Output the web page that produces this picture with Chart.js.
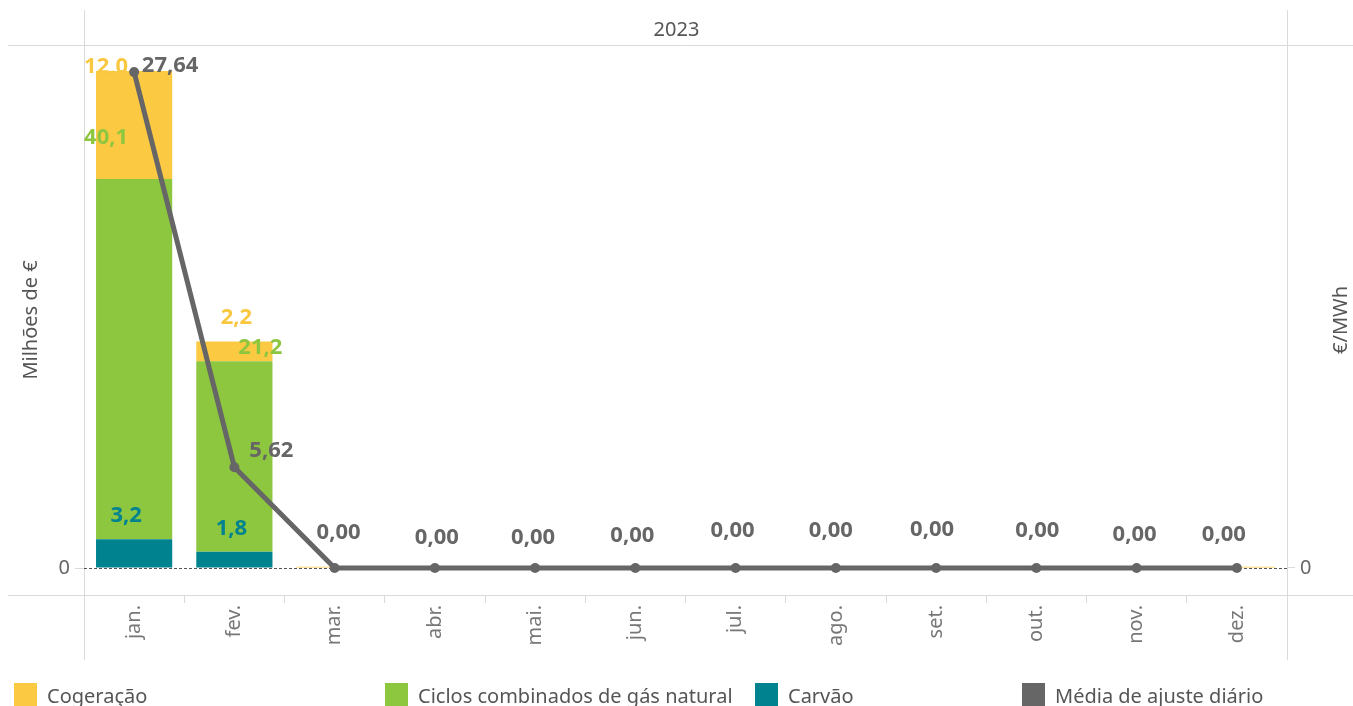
<!DOCTYPE html>
<html>
<head>
<meta charset="utf-8">
<script src="https://cdn.jsdelivr.net/npm/chart.js@4/dist/chart.umd.min.js"></script>
<style>
  body { margin: 0; background: #fff; font-family: "Noto Sans", sans-serif; }
  #wrap { position: relative; width: 1353px; height: 706px; overflow: hidden; }
  .leg { position: absolute; top: 683px; height: 26px; line-height: 26px; font-size: 20px; color: #555; white-space: nowrap; }
  .leg i { display: inline-block; width: 23px; height: 23px; vertical-align: top; margin: 0 10px 0 0; }
</style>
</head>
<body>
<div id="wrap">
  <canvas id="chart" width="1353" height="706"></canvas>
  <div class="leg" style="left:14px"><i style="background:#FCC943"></i>Cogeração</div>
  <div class="leg" style="left:385px"><i style="background:#8DC63F"></i>Ciclos combinados de gás natural</div>
  <div class="leg" style="left:755px"><i style="background:#00838F"></i>Carvão</div>
  <div class="leg" style="left:1022px"><i style="background:#666666"></i>Média de ajuste diário</div>
</div>
<script>
        // values (Milhões de € and €/MWh)
        var months = ["jan.", "fev.", "mar.", "abr.", "mai.", "jun.", "jul.", "ago.", "set.", "out.", "nov.", "dez."];
        var cogeracao = [12.0, 2.2, 0.15, 0, 0, 0, 0, 0, 0, 0, 0, 0.15];
        var ciclos = [40.1, 21.2, 0, 0, 0, 0, 0, 0, 0, 0, 0, 0];
        var carvao = [3.2, 1.8, 0, 0, 0, 0, 0, 0, 0, 0, 0, 0];
        var mediaAjuste = [27.64, 5.62, 0, 0, 0, 0, 0, 0, 0, 0, 0, 0];

        var grey = "#666666";
        var frameCol = "#dadada";
        var font = "'Noto Sans', sans-serif";

        // where Tableau put each label, relative to the mark
        var nudges = {
            cog: [[-28, -6], [2, -26]],
            cic: [[-28, -43], [26, -15]],
            car: [[-8, -25], [-3, -25]],
            media: [[36, -8], [37, -18], [4, -37], [2, -32], [-2, -32], [-3, -34], [-3, -39], [-5, -39], [-4, -40], [1, -39], [-2, -35], [-13, -35]]
        };

        var frame = {
            id: 'frame',
            beforeDraw: (chart) => {
                const {ctx, chartArea: a} = chart;
                ctx.save();
                ctx.strokeStyle = frameCol;
                ctx.lineWidth = 1;
                ctx.beginPath();
                ctx.moveTo(8, a.top + 0.5); ctx.lineTo(chart.width, a.top + 0.5);
                ctx.moveTo(8, a.bottom + 0.5); ctx.lineTo(chart.width, a.bottom + 0.5);
                ctx.moveTo(a.left + 0.5, 10); ctx.lineTo(a.left + 0.5, 660);
                ctx.moveTo(a.right + 0.5, 10); ctx.lineTo(a.right + 0.5, 660);
                ctx.stroke();
                ctx.restore();
            },
            afterDraw: (chart) => {
                const {ctx, chartArea: a} = chart;
                // right axis title reads bottom to top
                ctx.save();
                ctx.translate(1341, (a.top + a.bottom) / 2);
                ctx.rotate(-Math.PI / 2);
                ctx.fillStyle = "#555";
                ctx.font = "20px " + font;
                ctx.textAlign = "center";
                ctx.textBaseline = "middle";
                ctx.fillText("€/MWh", 0, 0);
                ctx.restore();
            }
        };

        var valueLabels = {
            id: 'valueLabels',
            afterDatasetsDraw: (chart) => {
                const {ctx} = chart;
                ctx.save();
                ctx.font = "bold 22px " + font;
                ctx.textAlign = "center";
                ctx.textBaseline = "alphabetic";
                chart.data.datasets.forEach((ds, di) => {
                    const meta = chart.getDatasetMeta(di);
                    const nd = nudges[ds.key];
                    meta.data.forEach((el, i) => {
                        const v = ds.data[i];
                        const isLine = ds.type === 'line';
                        if (!isLine && v < 0.5) return;
                        const off = nd[i] || [0, -25];
                        const txt = v.toFixed(isLine ? 2 : 1).replace('.', ',');
                        ctx.fillStyle = ds.labelColor;
                        ctx.fillText(txt, el.x + off[0], el.y + off[1] + 8);
                    });
                });
                ctx.restore();
            }
        };

        const cvs = document.getElementById("chart");
        new Chart(cvs, {
            type: "bar",
            data: {
                labels: months,
                datasets: [{
                    key: 'media',
                    type: 'line',
                    label: 'Média de ajuste diário',
                    data: mediaAjuste,
                    yAxisID: 'y1',
                    borderColor: grey,
                    borderWidth: 5,
                    pointRadius: 5,
                    pointBorderWidth: 0,
                    pointBackgroundColor: grey,
                    labelColor: grey,
                    order: 0
                }, {
                    key: 'car',
                    label: 'Carvão',
                    data: carvao,
                    backgroundColor: '#00838F',
                    labelColor: '#00838F',
                    stack: 's',
                    order: 1
                }, {
                    key: 'cic',
                    label: 'Ciclos combinados de gás natural',
                    data: ciclos,
                    backgroundColor: '#8DC63F',
                    labelColor: '#8DC63F',
                    stack: 's',
                    order: 1
                }, {
                    key: 'cog',
                    label: 'Cogeração',
                    data: cogeracao,
                    backgroundColor: '#FCC943',
                    labelColor: '#F9C740',
                    stack: 's',
                    order: 1
                }]
            },
            options: {
                responsive: false,
                animation: false,
                devicePixelRatio: 1,
                datasets: {
                    bar: { categoryPercentage: 1, barPercentage: 0.76 }
                },
                plugins: {
                    legend: { display: false },
                    tooltip: { enabled: false },
                    title: {
                        display: true,
                        text: "2023",
                        color: "#555",
                        font: { family: font, size: 20, weight: 'normal' },
                        padding: { top: 18, bottom: 3 }
                    }
                },
                scales: {
                    x: {
                        grid: { drawOnChartArea: false, color: frameCol, tickLength: 8, offset: true },
                        border: { display: false },
                        ticks: {
                            color: "#777",
                            font: { family: font, size: 20 },
                            minRotation: 90,
                            maxRotation: 90,
                            autoSkip: false,
                            padding: 2
                        },
                        afterFit: (s) => { s.height = 65; }
                    },
                    y: {
                        stacked: true,
                        min: -3.0,
                        max: 58.2,
                        afterBuildTicks: (s) => { s.ticks = [{value: 0}]; },
                        grid: { color: "#555", lineWidth: 1, tickColor: frameCol, tickLength: 9 },
                        border: { display: false, dash: [3, 2] },
                        ticks: {
                            color: "#666",
                            font: { family: font, size: 20 },
                            padding: 5,
                            callback: () => "0"
                        },
                        title: {
                            display: true,
                            text: "Milhões de €",
                            color: "#555",
                            font: { family: font, size: 20 },
                            padding: { top: 19, bottom: 0 }
                        },
                        afterFit: (s) => { s.width = 84; }
                    },
                    y1: {
                        position: 'right',
                        min: -1.505,
                        max: 29.15,
                        afterBuildTicks: (s) => { s.ticks = [{value: 0}]; },
                        grid: { drawOnChartArea: false, tickColor: frameCol, tickLength: 8 },
                        border: { display: false },
                        ticks: {
                            color: "#666",
                            font: { family: font, size: 20 },
                            padding: 5,
                            callback: () => "0"
                        },
                        afterFit: (s) => { s.width = 66; }
                    }
                },
                layout: { padding: { bottom: 46 } }
            },
            plugins: [frame, valueLabels]
        });
</script>
</body>
</html>
